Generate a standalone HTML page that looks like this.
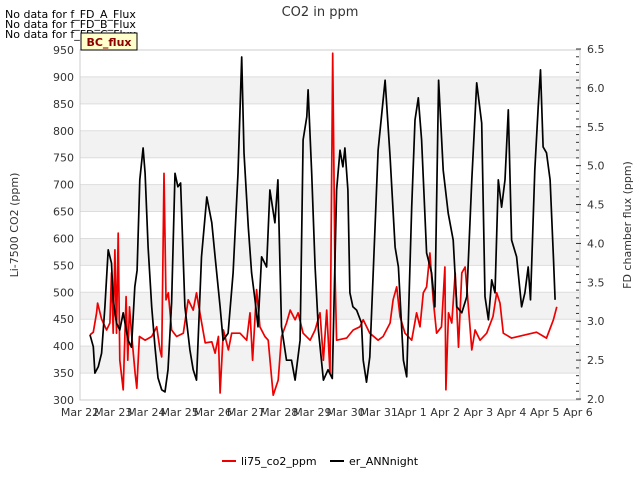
<!DOCTYPE html>
<html><head><meta charset="utf-8"><style>
body{margin:0;background:#fff;font-family:"Liberation Sans","DejaVu Sans",sans-serif}
svg text{font-family:"DejaVu Sans","Liberation Sans",sans-serif}
</style></head><body>
<svg id="chart" width="640" height="480" xmlns="http://www.w3.org/2000/svg">
<g id="bands"></g><g id="grid"></g>
<rect x="80" y="50" width="500" height="350" fill="none" stroke="#ccc"/>
<g id="series"></g><g id="axes"></g>
<text x="320" y="16" text-anchor="middle" font-size="13" fill="#333">CO2 in ppm</text>
<text x="5" y="18" font-size="11">No data for f_FD_A_Flux</text>
<text x="5" y="28" font-size="11">No data for f_FD_B_Flux</text>
<text x="5" y="38" font-size="11">No data for f_FD_C_Flux</text>
<g><rect x="81" y="33" width="56" height="17" fill="#ffffcc" stroke="#000"/>
<text x="109" y="46" text-anchor="middle" font-size="11" font-weight="bold" fill="#8b0000">BC_flux</text></g>
<text transform="translate(18,225) rotate(-90)" text-anchor="middle" font-size="11" fill="#333">Li-7500 CO2 (ppm)</text>
<text transform="translate(631,225) rotate(-90)" text-anchor="middle" font-size="11" fill="#333">FD chamber flux (ppm)</text>
<g>
<line x1="222" y1="461" x2="236" y2="461" stroke="#e00" stroke-width="2"/><text x="241" y="465" font-size="11">li75_co2_ppm</text>
<line x1="330" y1="461" x2="344" y2="461" stroke="#000" stroke-width="2"/><text x="349" y="465" font-size="11">er_ANNnight</text></g>
</svg>
<script>
const xTickLabels=["Mar 22","Mar 23","Mar 24","Mar 25","Mar 26","Mar 27","Mar 28","Mar 29","Mar 30","Mar 31","Apr 1","Apr 2","Apr 3","Apr 4","Apr 5","Apr 6"];
const yTicksLeft=[300,350,400,450,500,550,600,650,700,750,800,850,900,950];
const yTicksRight=["2.0","2.5","3.0","3.5","4.0","4.5","5.0","5.5","6.0","6.5"];
const redDays=[0.3,0.4,0.5,0.53,0.65,0.8,0.9,0.95,1.0,1.05,1.1,1.15,1.2,1.3,1.39,1.44,1.49,1.55,1.66,1.71,1.79,1.96,2.16,2.31,2.41,2.46,2.53,2.59,2.66,2.76,2.91,3.11,3.26,3.41,3.51,3.61,3.77,3.97,4.07,4.17,4.22,4.32,4.47,4.57,4.82,5.02,5.12,5.2,5.32,5.42,5.57,5.67,5.82,5.97,6.07,6.22,6.33,6.48,6.57,6.72,6.93,7.08,7.23,7.33,7.43,7.53,7.61,7.68,7.73,8.03,8.23,8.43,8.53,8.73,8.98,9.13,9.34,9.43,9.54,9.64,9.79,9.99,10.14,10.24,10.34,10.44,10.54,10.64,10.74,10.89,10.99,11.02,11.1,11.2,11.3,11.4,11.5,11.6,11.7,11.8,11.9,12.05,12.25,12.44,12.55,12.65,12.75,13.0,13.75,14.05,14.26,14.36];
const redVals=[421,426,462,480,450,430,443,536,424,579,424,610,374,319,492,374,473,424,350,322,418,411,418,436,393,380,721,486,499,430,418,424,486,467,499,462,406,408,387,418,313,430,393,424,424,411,462,374,505,436,418,411,309,337,418,443,467,449,462,424,411,430,462,374,467,350,944,536,411,415,430,436,449,424,411,418,443,486,510,455,424,411,462,436,499,510,573,486,424,436,547,319,462,443,536,398,536,547,473,393,430,411,424,455,499,480,424,415,426,415,449,473];
const blackDays=[0.3,0.4,0.45,0.55,0.65,0.75,0.85,0.95,1.0,1.1,1.2,1.3,1.45,1.55,1.65,1.72,1.8,1.9,1.96,2.05,2.16,2.26,2.35,2.46,2.56,2.65,2.76,2.86,2.95,3.03,3.16,3.31,3.41,3.51,3.66,3.82,3.97,4.07,4.22,4.31,4.46,4.61,4.76,4.87,4.94,5.07,5.17,5.27,5.36,5.47,5.62,5.72,5.87,5.96,6.07,6.22,6.37,6.48,6.63,6.72,6.83,6.87,6.98,7.08,7.18,7.33,7.47,7.6,7.73,7.83,7.92,7.98,8.07,8.13,8.22,8.33,8.48,8.53,8.63,8.73,8.83,8.98,9.19,9.34,9.49,9.59,9.74,9.84,9.99,10.09,10.19,10.29,10.44,10.59,10.69,10.8,10.94,11.09,11.24,11.35,11.5,11.65,11.8,11.95,12.1,12.2,12.3,12.4,12.5,12.6,12.7,12.8,12.9,13.0,13.15,13.3,13.4,13.5,13.57,13.7,13.8,13.87,13.95,14.05,14.16,14.26,14.31];
const blackVals=[421,399,350,362,387,473,579,554,486,443,430,462,411,398,510,541,709,768,721,584,473,398,341,319,315,356,480,721,696,703,473,393,356,337,566,677,629,566,473,411,424,536,721,937,759,621,536,486,436,566,547,690,629,709,436,374,374,337,411,783,826,876,721,547,430,337,356,340,690,764,733,768,690,499,473,467,443,374,333,380,536,764,894,751,584,547,374,343,658,820,861,783,573,536,473,894,727,647,597,473,462,492,709,889,814,492,449,523,499,709,658,709,839,597,566,473,499,547,486,727,844,913,770,759,709,566,486];
const NS="http://www.w3.org/2000/svg";
const X0=80,X1=578,Y0=400,Y1=50;
const xs=d=>X0+d*(X1-X0)/15;
const ys=v=>Y0-(v-300)*(Y0-Y1)/650;
function mk(tag,attrs,parent){const e=document.createElementNS(NS,tag);for(const k in attrs)e.setAttribute(k,attrs[k]);document.getElementById(parent).appendChild(e);return e;}
for(let v=350;v<950;v+=100){const b=mk('rect',{x:80,y:ys(v+50),width:500,height:ys(v)-ys(v+50),fill:'#f2f2f2'},'bands');

}
yTicksLeft.forEach(v=>{const g=mk('line',{x1:80,x2:580,y1:ys(v),y2:ys(v),stroke:'#ddd'},'grid');


const t=mk('text',{x:74,y:ys(v)+4,'text-anchor':'end','font-size':11,fill:'#333'},'axes');t.textContent=v;

});
yTicksRight.forEach((s,i)=>{const y=399-i*350/9;const t=mk('text',{x:587,y:y+4,'font-size':11,fill:'#333'},'axes');t.textContent=s;

});
for(let i=0;i<=45;i++){const y=399-i*350/45;const l=mk('line',{x1:576,x2:i%5?579:581,y1:y,y2:y,stroke:'#333'},'axes');

}
xTickLabels.forEach((s,i)=>{const t=mk('text',{x:xs(i),y:416,'text-anchor':'middle','font-size':11,fill:'#333'},'axes');t.textContent=s;

});
function line(days,vals,color,name){const p=mk('polyline',{points:days.map((d,i)=>xs(d).toFixed(1)+','+ys(vals[i]).toFixed(1)).join(' '),fill:'none',stroke:color,'stroke-width':1.7,'stroke-linejoin':'round'},'series');

}
line(redDays,redVals,'#e00','li75-co2-line');
line(blackDays,blackVals,'#000','er-annnight-line');
</script>
</body></html>
